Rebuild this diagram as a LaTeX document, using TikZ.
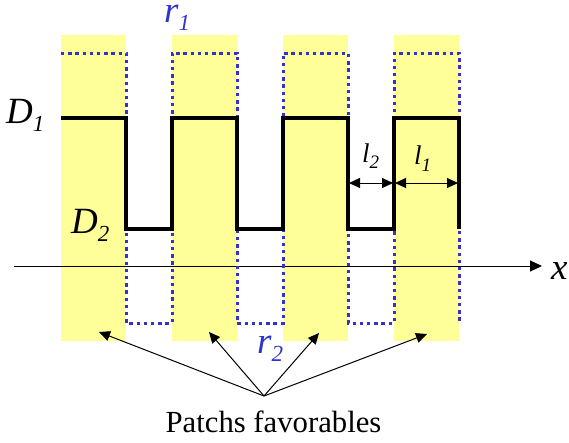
\documentclass[tikz,border=0pt]{standalone}
\usepackage{fontspec}
\setmainfont{Liberation Serif}
\usetikzlibrary{arrows.meta}
\definecolor{patchyellow}{RGB}{255,255,153}
\definecolor{dotblue}{RGB}{51,51,204}
\tikzset{
  band/.style={fill=patchyellow, draw=none, inner sep=0pt, anchor=north west,
    minimum width=65pt, minimum height=306pt},
  wave/.style={line width=4pt, line join=miter, black},
  bluedot/.style={line width=3pt, dotblue, dash pattern=on 3.4pt off 3.8pt},
  lbl/.style={inner sep=0pt, anchor=base west, font=\fontsize{37}{37}\selectfont\itshape},
  llbl/.style={inner sep=0pt, anchor=base west, font=\fontsize{27}{27}\selectfont\itshape},
  tip/.style={-{Triangle[length=11pt,width=10pt]}, line width=1pt},
  dtip/.style={{Triangle[length=11pt,width=10pt]}-{Triangle[length=11pt,width=10pt]}, line width=1pt},
}
\newcommand{\subs}[2]{\raisebox{-#1}{\fontsize{23}{23}\selectfont #2}}
\newcommand{\lsubs}[2]{\raisebox{-#1}{\fontsize{19}{19}\selectfont #2}}
\begin{document}
\begin{tikzpicture}[x=1pt,y=-1pt]
\useasboundingbox (0,0) rectangle (569,442);
% yellow patches
\node[band] (band1) at (61,35) {};
\node[band] (band2) at (172,35) {};
\node[band] (band3) at (283,35) {};
\node[band] (band4) at (394,35) {};
% x axis
\coordinate (ax0) at (14,266);
\coordinate (ax1) at (542,266);
\draw[-{Triangle[length=12pt,width=11pt]}, line width=1pt] (ax0) -- (ax1);
\node[lbl] (xl) at (551,279) {x};
% blue dotted r profile
\draw[bluedot] (61,53) -- (126,53) -- (126,323) -- (172,323) -- (172,53) -- (237,53)
  -- (237,323) -- (283,323) -- (283,53) -- (348,53) -- (348,323) -- (394,323)
  -- (394,53) -- (459,53) -- (459,321);
% black D profile
\draw[wave] (61,118) -- (126,118) -- (126,229) -- (172,229) -- (172,118) -- (237,118)
  -- (237,229) -- (283,229) -- (283,118) -- (348,118) -- (348,229) -- (394,229)
  -- (394,118) -- (459,118) -- (459,229);
% labels
\node[lbl] (D1) at (6,123) {D\subs{8pt}{1}};
\node[lbl] (D2) at (71,233) {D\subs{8.5pt}{2}};
\node[lbl, text=dotblue] (r1) at (164,22) {r\subs{8pt}{1}};
\node[lbl, text=dotblue] (r2) at (257,353) {r\subs{8.5pt}{2}};
\node[llbl] (l2) at (362,162) {l\lsubs{6pt}{2}};
\node[llbl] (l1) at (414,164) {l\lsubs{7pt}{1}};
% width arrows
\coordinate (l2a) at (349,183);
\coordinate (l2b) at (393,183);
\coordinate (l1a) at (395,183);
\coordinate (l1b) at (458,183);
\draw[dtip] (l2a) -- (l2b);
\draw[dtip] (l1a) -- (l1b);
% patches label and arrows
\node[inner sep=0pt, anchor=base, font=\fontsize{30.7}{30.7}\selectfont] (patch) at (273.5,432) {Patchs favorables};
\coordinate (conv) at (264,396);
\coordinate (t1) at (99,332);
\coordinate (t2) at (209,332);
\coordinate (t3) at (319,333);
\coordinate (t4) at (427,334);
\foreach \t in {t1,t2,t3,t4} \draw[tip] (conv) -- (\t);
\end{tikzpicture}
\end{document}
